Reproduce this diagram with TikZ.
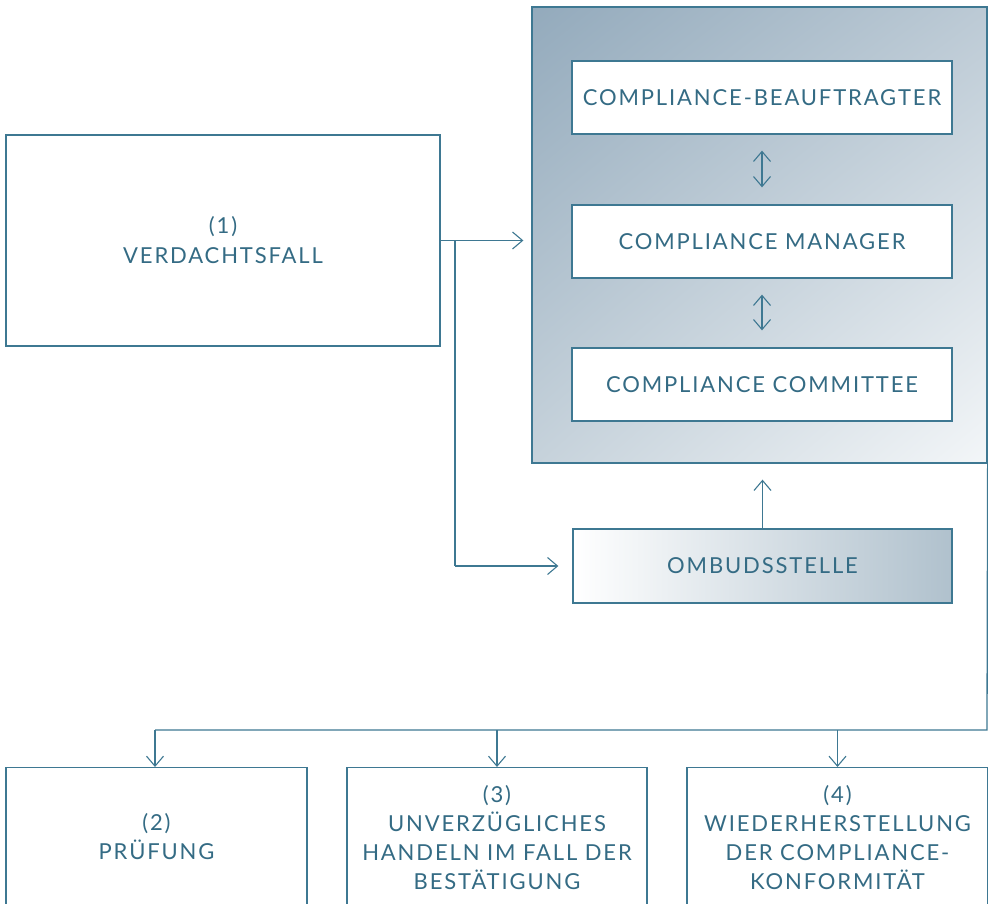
\documentclass[tikz,border=0pt]{standalone}
\usepackage{fontspec}
\setmainfont{Lato}[LetterSpace=8.5]
\usetikzlibrary{arrows.meta,shadings}
\definecolor{ln}{HTML}{3E7892}
\definecolor{tx}{HTML}{346B84}
\definecolor{gA}{HTML}{93AABC}
\definecolor{gB}{HTML}{BCCAD5}
\definecolor{gC}{HTML}{C6D2DB}
\definecolor{gD}{HTML}{F3F6F8}
\definecolor{gO}{HTML}{B0C1CD}
\tikzset{
  tip/.tip={Straight Barb[length=10pt,width=17pt,line width=1.1pt]},
  box/.style={draw=ln, line width=1.3pt, fill=white, align=center, text=tx,
    font=\fontsize{22}{30}\selectfont, inner sep=0pt},
  lbl/.style={text=tx, align=center, font=\fontsize{22}{29}\selectfont, anchor=north, inner sep=0pt},
  arr/.style={draw=ln, line width=1.3pt, -tip},
  darr/.style={draw=ln, line width=1.3pt, tip-tip},
  ln/.style={draw=ln, line width=1.3pt}
}
\begin{document}
\begin{tikzpicture}[x=1pt,y=-1pt]
\useasboundingbox (0,0) rectangle (988,904);
\clip (0,0) rectangle (988,904);
% big shaded container
\shade[upper left=gA, upper right=gB, lower left=gC, lower right=gD] (532,7) rectangle (987,463);
\node[draw=ln, line width=1.3pt, minimum width=455pt, minimum height=456pt, inner sep=0pt] (big) at (759.5,235) {};
% left box
\node[box, minimum width=434pt, minimum height=211pt] (v) at (223,240.5) {(1)\\VERDACHTSFALL};
% inner boxes
\node[box, minimum width=380pt, minimum height=73pt] (cb) at (762,97.5) {COMPLIANCE-BEAUFTRAGTER};
\node[box, minimum width=380pt, minimum height=73pt] (cm) at (762,241.5) {COMPLIANCE MANAGER};
\node[box, minimum width=380pt, minimum height=73pt] (cc) at (762,384.5) {COMPLIANCE COMMITTEE};
% ombudsstelle
\shade[left color=white, right color=gO] (573,529) rectangle (952,603);
\node[box, fill=none, minimum width=379pt, minimum height=74pt] (om) at (762.5,566) {OMBUDSSTELLE};
% bottom boxes
\node[box, minimum width=301pt, minimum height=150pt, anchor=north] (p2) at (156.5,767) {};
\node[box, minimum width=300pt, minimum height=150pt, anchor=north] (p3) at (497,767) {};
\node[box, minimum width=301pt, minimum height=150pt, anchor=north] (p4) at (837.5,767) {};
\node[lbl] (t2) at (156.5,813) {(2)\\PRÜFUNG};
\node[lbl] (t3) at (497,785) {(3)\\UNVERZÜGLICHES\\HANDELN IM FALL DER\\BESTÄTIGUNG};
\node[lbl] (t4) at (837.5,785) {(4)\\WIEDERHERSTELLUNG\\DER COMPLIANCE-\\KONFORMITÄT};
% connectors
\coordinate (j) at (455,240.5);
\coordinate (jb) at (455,566);
\draw[arr, shorten >=8pt] (v.east) -- (big.west |- v.east);
\draw[ln] (j) -- (jb);
\draw[arr, shorten >=14pt] (jb) -- (om.west);
\draw[ln] ([xshift=-4pt]j) -- ([xshift=4pt]j);
\draw[darr, shorten >=17pt, shorten <=16pt] (cb.south) -- (cm.north);
\draw[darr, shorten >=17pt, shorten <=16pt] (cm.south) -- (cc.north);
\draw[arr, shorten >=16pt] (om.north) -- (big.south -| om.north);
\coordinate (r) at (987,730);
\coordinate (l) at (155,730);
\draw[ln] (big.south east) -- (r) -- (l);
\draw[arr] (l) -- (l |- p2.north);
\draw[arr] (p3.north |- r) -- (p3.north);
\draw[arr] (p4.north |- r) -- (p4.north);
\end{tikzpicture}
\end{document}
